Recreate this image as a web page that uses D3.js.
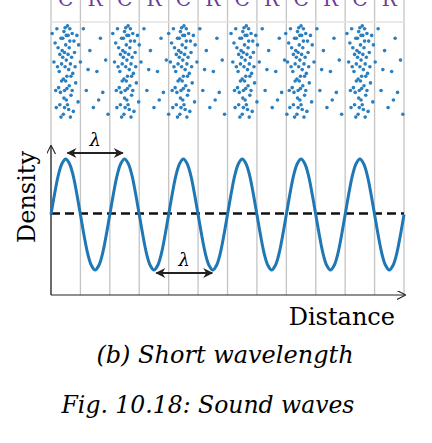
<!DOCTYPE html>
<html>
<head>
<meta charset="utf-8">
<script src="https://cdn.jsdelivr.net/npm/d3@7"></script>
<style>
  body { margin: 0; background: #fff; }
  text { font-family: "DejaVu Serif", "Liberation Serif", serif; }
</style>
</head>
<body>
<div id="chart"></div>
<script>
// Data
const wavelengths = [0, 1, 2, 3, 4, 5]          // six full waves along the distance axis
const zoneLabels = ["C", "R"]                    // compression / rarefaction
const gridSteps = [0, 0.5, 1, 1.5, 2, 2.5, 3, 3.5, 4, 4.5, 5, 5.5, 6]
// dots of one wavelength: [phase within wavelength, height 0..1], clustered near phase 0.25
const clusterDots = [
  [0.02, 0.9], [0.05, 0.6], [0.08, 0.3], [0.1, 0.95], [0.12, 0.75], [0.14, 0.5], [0.15, 0.15],
  [0.17, 0.85], [0.18, 0.4], [0.2, 0.65], [0.21, 0.05], [0.22, 0.92], [0.23, 0.3], [0.24, 0.55],
  [0.25, 0.78], [0.26, 0.2], [0.27, 0.45], [0.28, 0.98], [0.29, 0.68], [0.3, 0.1], [0.31, 0.35],
  [0.32, 0.82], [0.33, 0.58], [0.34, 0.25], [0.36, 0.9], [0.37, 0.48], [0.38, 0.08], [0.4, 0.7],
  [0.42, 0.38], [0.44, 0.88], [0.46, 0.18], [0.5, 0.6], [0.55, 0.95], [0.6, 0.3], [0.66, 0.72],
  [0.72, 0.12], [0.78, 0.5], [0.84, 0.85], [0.88, 0.28], [0.93, 0.62], [0.97, 0.05],
  [0.19, 0.72], [0.23, 0.12], [0.26, 0.62], [0.29, 0.88], [0.21, 0.42], [0.16, 0.28], [0.33, 0.02],
  [0.11, 0.55], [0.35, 0.65], [0.27, 0.32], [0.24, 0.96], [0.41, 0.55], [0.07, 0.8],
  [0.13, 0.33], [0.18, 0.58], [0.22, 0.22], [0.25, 0.4], [0.28, 0.15], [0.31, 0.75], [0.34, 0.45],
  [0.2, 0.85], [0.3, 0.52], [0.39, 0.82], [0.09, 0.12], [0.47, 0.78], [0.63, 0.52], [0.81, 0.2],
  [0.15, 0.68], [0.26, 0.88], [0.36, 0.3], [0.17, 0.02], [0.32, 0.95], [0.23, 0.7]
]
// small shifts per wavelength so the pattern does not look copied
const periodShift = [0, 0.03, -0.02, 0.04, -0.03, 0.01]
const densityWave = [
  0, 0.38, 0.71, 0.92, 1, 0.92, 0.71, 0.38, 0, -0.38, -0.71, -0.92, -1, -0.92, -0.71, -0.38
]

// Dimensions
const width = 432, height = 443
const svg = d3.select("#chart").append("svg")
  .attr("width", width).attr("height", height)

const xScale = d3.scaleLinear().domain([0, 6]).range([51, 404])
const dotY = d3.scaleLinear().domain([0, 1]).range([119, 24])
const waveY = d3.scaleLinear().domain([-1, 1]).range([270, 159])
const axisY = 295

const defs = svg.append("defs")
defs.append("marker").attr("id", "open").attr("viewBox", "0 0 10 10")
  .attr("refX", 9).attr("refY", 5).attr("markerWidth", 9).attr("markerHeight", 9)
  .attr("orient", "auto-start-reverse").attr("markerUnits", "userSpaceOnUse")
  .append("path").attr("d", "M0,0L10,5L0,10").attr("fill", "none").attr("stroke", "#222").attr("stroke-width", 1.2)
defs.append("marker").attr("id", "solid").attr("viewBox", "0 0 10 10")
  .attr("refX", 9).attr("refY", 5).attr("markerWidth", 12).attr("markerHeight", 10)
  .attr("orient", "auto-start-reverse").attr("markerUnits", "userSpaceOnUse")
  .append("path").attr("d", "M0,0L10,5L0,10L3,5Z").attr("fill", "#222")

// grid lines
svg.append("g").selectAll("line").data(gridSteps).join("line")
  .attr("x1", d => xScale(d)).attr("x2", d => xScale(d))
  .attr("y1", 0).attr("y2", axisY)
  .attr("stroke", "#c4c4c4").attr("stroke-width", 1.3)

// top edge of particle band
svg.append("line").attr("x1", xScale(0)).attr("x2", xScale(6))
  .attr("y1", 22).attr("y2", 22).attr("stroke", "#e2e2e2").attr("stroke-width", 1.5)

// C / R labels
svg.append("g").selectAll("text").data(gridSteps.slice(0, 12)).join("text")
  .attr("x", d => xScale(d + 0.25)).attr("y", 6)
  .attr("text-anchor", "middle").attr("font-size", 20).attr("fill", "#6a3d9a")
  .text((d, i) => zoneLabels[i % 2])

// particles
const dots = wavelengths.flatMap((w, i) => clusterDots.map(([p, h]) => ({
  x: Math.min(5.99, Math.max(0.01, w + p + periodShift[i])), y: h
})))
svg.append("g").selectAll("circle").data(dots).join("circle")
  .attr("cx", d => xScale(d.x)).attr("cy", d => dotY(d.y))
  .attr("r", 1.8).attr("fill", "#2a7fc0")

// axes
svg.append("line").attr("x1", 51).attr("y1", axisY).attr("x2", 51).attr("y2", 146)
  .attr("stroke", "#222").attr("stroke-width", 1.2).attr("marker-end", "url(#open)")
svg.append("line").attr("x1", 51).attr("y1", axisY).attr("x2", 405).attr("y2", axisY)
  .attr("stroke", "#222").attr("stroke-width", 1.2).attr("marker-end", "url(#open)")

// dashed mean line
svg.append("line").attr("x1", xScale(0)).attr("x2", xScale(6))
  .attr("y1", waveY(0) - 1).attr("y2", waveY(0) - 1)
  .attr("stroke", "#111").attr("stroke-width", 2.5).attr("stroke-dasharray", "9,5")

// density wave
const wavePts = wavelengths.flatMap(w => densityWave.map((v, j) => [w + j / densityWave.length, v]))
wavePts.push([6, 0])
svg.append("path").datum(wavePts)
  .attr("d", d3.line().x(d => xScale(d[0])).y(d => waveY(d[1])).curve(d3.curveCatmullRom))
  .attr("fill", "none").attr("stroke", "#1f77b4").attr("stroke-width", 3)

// wavelength markers
const lambdaMarks = [{ a: 0.28, b: 1.22, y: 153 }, { a: 1.79, b: 2.74, y: 273 }]
lambdaMarks.forEach(m => {
  svg.append("line").attr("x1", xScale(m.a)).attr("x2", xScale(m.b))
    .attr("y1", m.y).attr("y2", m.y).attr("stroke", "#222").attr("stroke-width", 2)
    .attr("marker-start", "url(#solid)").attr("marker-end", "url(#solid)")
  svg.append("text").attr("x", xScale((m.a + m.b) / 2)).attr("y", m.y - 7)
    .attr("text-anchor", "middle").attr("font-size", 18).attr("font-style", "italic")
    .text("λ")
})

// labels
svg.append("text").attr("transform", "translate(35,197) rotate(-90)")
  .attr("text-anchor", "middle").attr("font-size", 24).text("Density")
svg.append("text").attr("x", 395).attr("y", 325).attr("text-anchor", "end")
  .attr("font-size", 24).text("Distance")
svg.append("text").attr("x", 225).attr("y", 363).attr("text-anchor", "middle")
  .attr("font-size", 24).attr("font-style", "italic").text("(b) Short wavelength")
svg.append("text").attr("x", 208).attr("y", 413).attr("text-anchor", "middle")
  .attr("font-size", 23.5).attr("font-style", "italic").text("Fig. 10.18: Sound waves")
</script>
</body>
</html>
